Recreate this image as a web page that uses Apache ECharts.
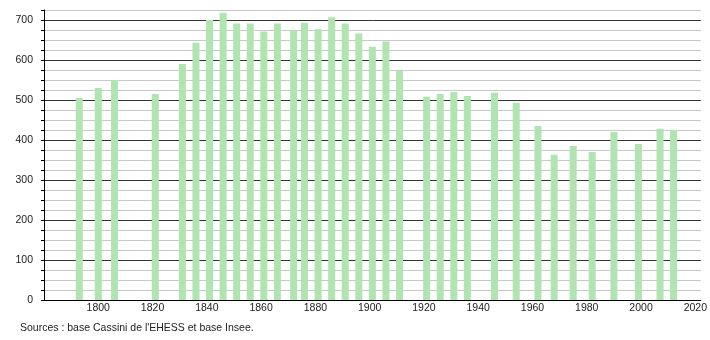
<!DOCTYPE html>
<html>
<head>
<meta charset="utf-8">
<script src="https://cdn.jsdelivr.net/npm/echarts@6/dist/echarts.min.js"></script>
<style>html,body{margin:0;padding:0;background:#fff}#c{width:710px;height:340px}</style>
</head>
<body>
<div id="c"></div>
<script>
var years = [1793,1800,1806,1821,1831,1836,1841,1846,1851,1856,1861,1866,1872,1876,1881,1886,1891,1896,1901,1906,1911,1921,1926,1931,1936,1946,1954,1962,1968,1975,1982,1990,1999,2007,2012];
var population = [505,530,550,515,590,643,700,718,691,691,671,691,674,693,677,707,691,666,633,646,574,508,515,520,510,518,493,435,363,385,370,420,390,428,425];
var sourceText = "Sources : base Cassini de l'EHESS et base Insee.";

var data = years.map(function (y, i) { return [y, population[i]]; });
var chart = echarts.init(document.getElementById('c'));
chart.setOption({
  animation: false,
  backgroundColor: '#ffffff',
  grid: { left: 44, right: 9, top: 10, bottom: 40 },
  xAxis: {
    type: 'value', min: 1780, max: 2022, interval: 20,
    axisLine: { lineStyle: { color: '#000', width: 1 } },
    axisTick: { show: false },
    splitLine: { show: false },
    axisLabel: {
      color: '#222', fontSize: 10.5, fontFamily: 'Liberation Sans', margin: 3,
      showMinLabel: false,
      formatter: function (v) { return (v % 20 === 0 && v > 1780) ? String(v) : ''; }
    }
  },
  yAxis: {
    type: 'value', min: 0, max: 725, interval: 25,
    axisLine: { show: true, lineStyle: { color: '#000', width: 1 } },
    axisTick: { show: true, length: 3, lineStyle: { color: '#000' } },
    splitLine: { show: true, lineStyle: { color: ['#333333', '#c8c8c8', '#c8c8c8', '#c8c8c8'], width: 1 } },
    axisLabel: {
      color: '#222', fontSize: 10.5, fontFamily: 'Liberation Sans', margin: 11,
      formatter: function (v) { return v % 100 === 0 ? String(v) : ''; }
    }
  },
  series: [{
    type: 'bar', data: data, barWidth: 7,
    itemStyle: { color: '#b0e4b0' }
  }],
  graphic: [{
    type: 'text', left: 20, top: 323,
    style: { text: sourceText, fill: '#222', fontSize: 10.5, fontFamily: 'Liberation Sans' }
  }]
});
</script>
</body>
</html>
